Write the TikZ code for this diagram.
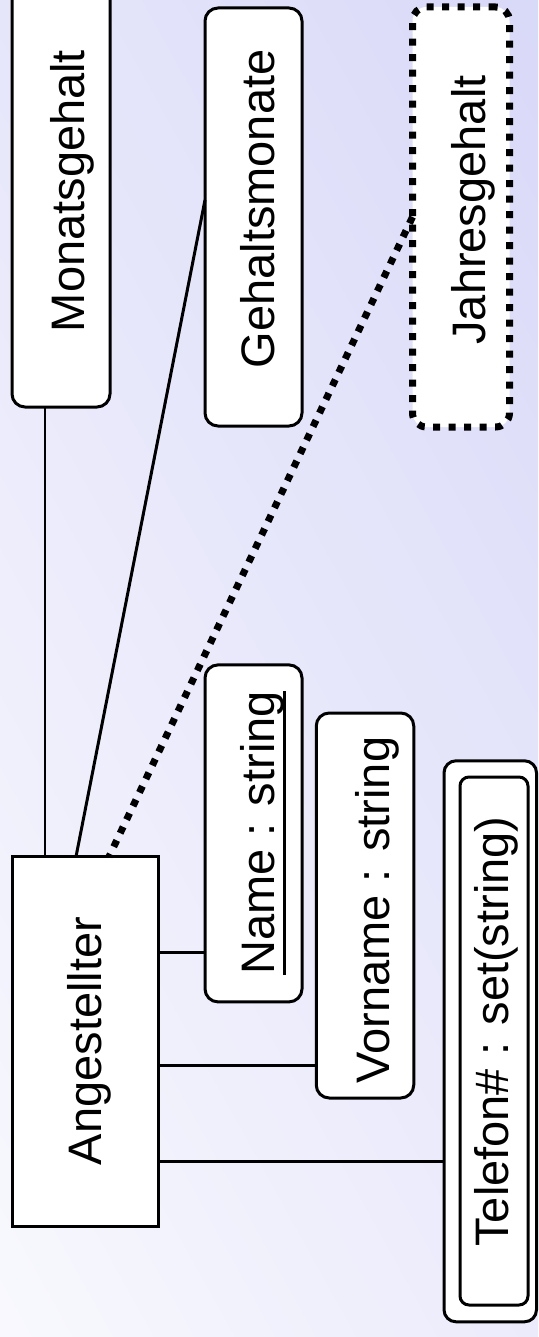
\documentclass[tikz,border=0pt]{standalone}
\usepackage{fontspec}
\setmainfont{Liberation Sans}
\usetikzlibrary{calc}
\definecolor{bglight}{RGB}{255,255,255}
\definecolor{bgdark}{RGB}{210,210,247}
\begin{document}
\begin{tikzpicture}[x=1pt,y=-1pt,
  rbox/.style={draw, line width=3pt, fill=white, rounded corners=13pt, inner sep=0pt, outer sep=0pt},
  sbox/.style={draw, line width=3pt, fill=white, inner sep=0pt, outer sep=0pt},
  dbox/.style={draw, line width=7pt, dash pattern=on 7pt off 8.5pt, fill=white, rounded corners=14pt, inner sep=0pt, outer sep=0pt},
  lbl/.style={rotate=90, anchor=base, inner sep=0pt, font=\fontsize{47}{56}\selectfont},
  conn/.style={line width=3pt},
  thinconn/.style={line width=2pt},
  dconn/.style={line width=7pt, dash pattern=on 7pt off 8pt}]
\useasboundingbox (0,0) rectangle (538,1337);
\begin{scope}
  \clip (0,0) rectangle (538,1337);
  \shade[top color=bgdark, bottom color=bglight, shading angle=-61] (-531,-131.5) rectangle (1069,1468.5);
\end{scope}

% boxes
\node[rbox, minimum width=98pt, minimum height=427pt] (mon) at (61,193.5) {};
\node[rbox, minimum width=97pt, minimum height=418pt] (geh) at (253.5,217) {};
\node[dbox, minimum width=97pt, minimum height=420pt] (jah) at (461,217) {};
\node[sbox, minimum width=146pt, minimum height=370pt] (ang) at (85,1041.7) {};
\node[rbox, minimum width=97pt, minimum height=337pt] (nam) at (253.5,833.4) {};
\node[rbox, minimum width=97.5pt, minimum height=385pt] (vor) at (365,905.5) {};
\node[rbox, rounded corners=12pt, minimum width=92.5pt, minimum height=561pt] (tel) at (490.25,1041.3) {};
\node[rbox, rounded corners=9pt, minimum width=68pt, minimum height=528pt] (teli) at (494,1041) {};

% connectors
\draw[thinconn] ($(mon.south west)+(33,0)$) -- ($(ang.north west)+(33,0)$);
\draw[conn] ($(geh.west)+(0,-17)$) -- ($(ang.north west)+(64,0)$);
\draw[dconn] (jah.west) -- ($(ang.north west)+(97,0)$);
\coordinate (nl) at ($(nam.south west)+(0,-49)$);
\coordinate (vl) at ($(vor.south west)+(0,-33)$);
\coordinate (tl) at ($(tel.south west)+(0,-160)$);
\draw[conn] (ang.east |- nl) -- (nl);
\draw[conn] (ang.east |- vl) -- (vl);
\draw[conn] (ang.east |- tl) -- (tl);

% labels
\node[lbl] (tmon) at (84,191) {Monatsgehalt};
\node[lbl] (tgeh) at (274.5,209) {Gehaltsmonate};
\node[lbl] (tjah) at (485.6,210) {Jahresgehalt};
\node[lbl] (tang) at (101,1041) {Angestellter};
\node[lbl] (tnam) at (274.5,833) {Name : string};
\draw[line width=3pt] ($(tnam.base west)+(9.5,0)$) -- ($(tnam.base east)+(9.5,0)$);
\node[lbl] (tvor) at (389.5,910) {Vorname : string};
\node[lbl] (ttel) at (508,1031.5) {Telefon\# : set(string)};
\end{tikzpicture}
\end{document}
